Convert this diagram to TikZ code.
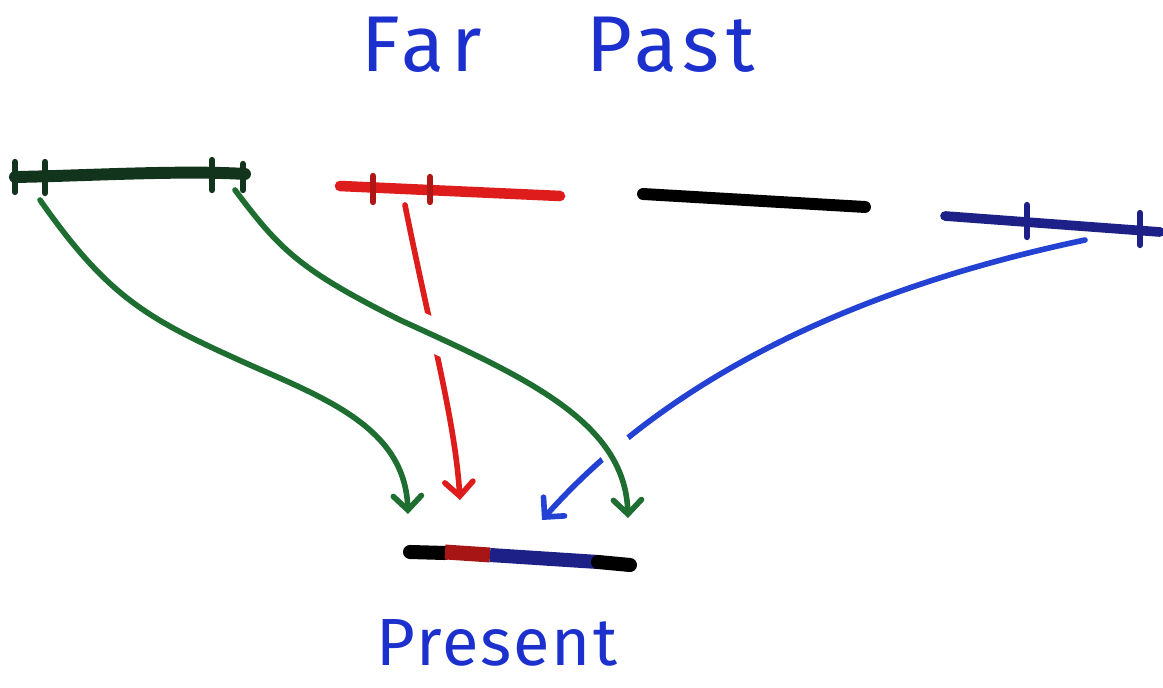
\documentclass[tikz,border=0pt]{standalone}
\usepackage{fontspec}
\setmainfont{Fira Sans}
\usetikzlibrary{arrows.meta}
\definecolor{gbar}{RGB}{18,52,28}
\definecolor{garrow}{RGB}{30,110,50}
\definecolor{rc}{RGB}{222,28,28}
\definecolor{bc}{RGB}{35,65,210}
\definecolor{nav}{RGB}{28,32,135}
\definecolor{tblue}{RGB}{28,48,205}
\tikzset{
  bar/.style={line width=6.8pt, line cap=round},
  tick/.style={line width=3.6pt, line cap=round},
  conn/.style={line width=3.2pt, line cap=round, -{Straight Barb[length=8pt,width=16pt,line cap=round]}},
  halo/.style={white, line width=19pt, shorten <=20pt, shorten >=20pt},
  label/.style={text=tblue, inner sep=0pt}
}
\begin{document}
\begin{tikzpicture}[x=0.02cm,y=-0.02cm]
\useasboundingbox[fill=white] (0,0) rectangle (1163,688);
% labels
\node[label, font=\fontsize{45}{54}\selectfont\addfontfeature{LetterSpace=8}] (far) at (558,45) {Far\hspace{2.1cm}Past};
\node[label, font=\fontsize{38}{46}\selectfont\addfontfeature{LetterSpace=3}] (present) at (497,643) {Present};
% anchor coordinates
\coordinate (g1s) at (40,200);
\coordinate (g1e) at (408,514);
\coordinate (g2s) at (235,190);
\coordinate (g2e) at (628,518);
\coordinate (rs) at (405,205);
\coordinate (re) at (460,500);
\coordinate (bs) at (1085,240);
\coordinate (be) at (542,520);
% connectors under the green one
\draw[conn, rc] (rs) .. controls (430,330) and (455,420) .. (re);
\draw[conn, bc] (bs) .. controls (800,300) and (640,410) .. (be);
\draw[halo] (g2s) .. controls (280,250) and (300,270) .. (400,320) .. controls (520,375) and (625,420) .. (g2e);
\draw[conn, garrow] (g1s) .. controls (110,300) and (150,320) .. (250,365) .. controls (330,400) and (405,430) .. (g1e);
\draw[conn, garrow] (g2s) .. controls (280,250) and (300,270) .. (400,320) .. controls (520,375) and (625,420) .. (g2e);
% green bar
\draw[bar, gbar] (15,177) .. controls (80,176) and (180,170) .. (245,174);
\foreach \x/\a/\b in {15/162/192, 45/162/193, 212/160/190, 243/164/190}
  \draw[tick, gbar] (\x,\a) -- (\x,\b);
% red bar
\draw[bar, rc, line width=6pt] (340,186) -- (560,196);
\foreach \x/\a/\b in {373/176/202, 430/177/202}
  \draw[tick, rc!80!black] (\x,\a) -- (\x,\b);
% black bar
\draw[bar, black] (643,194) -- (865,207);
% blue bar
\draw[bar, nav, line width=5.5pt] (945,216) -- (1160,232);
\foreach \x/\a/\b in {1027/205/237, 1140/213/245}
  \draw[tick, nav] (\x,\a) -- (\x,\b);
% present bar
\draw[bar, black, line width=8pt] (410,552) -- (445,553);
\draw[bar, rc!75!black, line width=8.5pt, line cap=butt] (445,552) -- (490,555);
\draw[bar, nav, line width=8pt, line cap=butt] (490,555) -- (598,562);
\draw[bar, black, line width=8pt] (598,562) -- (630,565);
\end{tikzpicture}
\end{document}
